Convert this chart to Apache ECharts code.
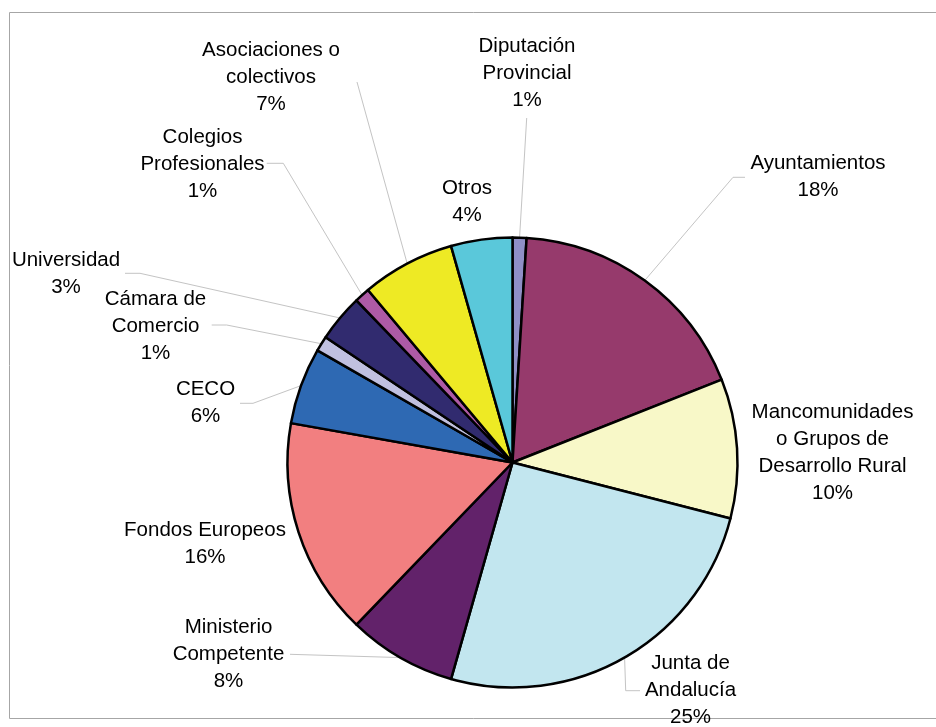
<!DOCTYPE html>
<html>
<head>
<meta charset="utf-8">
<script src="https://cdn.jsdelivr.net/npm/echarts@6/dist/echarts.min.js"></script>
<style>
html,body{margin:0;padding:0;background:#fff;}
#chart{width:936px;height:727px;}
</style>
</head>
<body>
<div id="chart"></div>
<script>
// ---- data ----
var categories = [
  'Diputación\nProvincial',
  'Ayuntamientos',
  'Mancomunidades\no Grupos de\nDesarrollo Rural',
  'Junta de\nAndalucía',
  'Ministerio\nCompetente',
  'Fondos Europeos',
  'CECO',
  'Cámara de\nComercio',
  'Universidad',
  'Colegios\nProfesionales',
  'Asociaciones o\ncolectivos',
  'Otros'
];
var values = [1.0, 18.0, 10.0, 25.4, 7.8, 15.6, 5.5, 1.1, 3.4, 1.1, 6.7, 4.4];

// ---- styles ----
var colors = ['#8f8fc6', '#963a6c', '#f8f8c8', '#c2e6ef', '#62226a', '#f27f80',
              '#2e69b3', '#c0c0e0', '#312b6f', '#ae5aa5', '#eeea24', '#5ac8da'];
var CX = 512.5, CY = 462.5, R = 225;
// label block centres
var labelPos = [
  [527, 73], [818, 177], [832.5, 452.5], [690.5, 690], [228.5, 654.5], [205, 544],
  [205.5, 403], [155.5, 326], [66, 273.5], [202.5, 164], [271, 77.5], [467, 201.5]
];
// leader line points after the slice edge (null = no line)
var leader = [
  [[526.7, 118]],
  [[733, 177.3], [745, 177.3]],
  null,
  [[625.7, 690.7], [640, 690.7]],
  [[290, 654.3]],
  null,
  [[253, 403.3], [240, 403.3]],
  [[226.7, 325], [211.7, 325]],
  [[140, 273.3], [125, 273.3]],
  [[283.3, 163.3], [266.7, 163.3]],
  [[357, 82]],
  null
];

var total = values.reduce(function (a, b) { return a + b; }, 0);
function edgePoint(i) {
  var cum = 0;
  for (var k = 0; k < i; k++) cum += values[k];
  var f = (cum + values[i] / 2) / total;
  var th = f * 2 * Math.PI;
  return [CX + R * Math.sin(th), CY - R * Math.cos(th)];
}

var data = categories.map(function (c, i) {
  var d = { name: c, value: values[i], itemStyle: { color: colors[i] } };
  if (!leader[i]) d.labelLine = { show: false };
  return d;
});

var chart = echarts.init(document.getElementById('chart'), null, { renderer: 'canvas' });
chart.setOption({
  backgroundColor: '#ffffff',
  animation: false,
  graphic: [{
    type: 'rect',
    z: -10,
    shape: { x: 9.5, y: 12.5, width: 940, height: 706 },
    style: { fill: 'none', stroke: '#a6a6a6', lineWidth: 1 }
  }],
  series: [{
    type: 'pie',
    center: [CX, CY],
    radius: R,
    startAngle: 90,
    clockwise: true,
    avoidLabelOverlap: false,
    data: data,
    itemStyle: { borderColor: '#000', borderWidth: 2.5 },
    label: {
      show: true,
      position: 'outside',
      color: '#000',
      fontFamily: '"Liberation Sans", Arial, sans-serif',
      fontSize: 20.5,
      lineHeight: 27,
      align: 'center',
      formatter: function (p) {
        return p.name + '\n' + Math.round(p.percent) + '%';
      }
    },
    labelLine: {
      show: true,
      lineStyle: { color: '#c4c4c4', width: 1 }
    },
    labelLayout: function (params) {
      var i = params.dataIndex;
      var out = {
        x: labelPos[i][0],
        y: labelPos[i][1],
        align: 'center',
        verticalAlign: 'middle',
        hideOverlap: false,
        moveOverlap: null
      };
      if (leader[i]) {
        out.labelLinePoints = [edgePoint(i)].concat(leader[i]);
      }
      return out;
    },
    emphasis: { disabled: true }
  }]
});
</script>
</body>
</html>
